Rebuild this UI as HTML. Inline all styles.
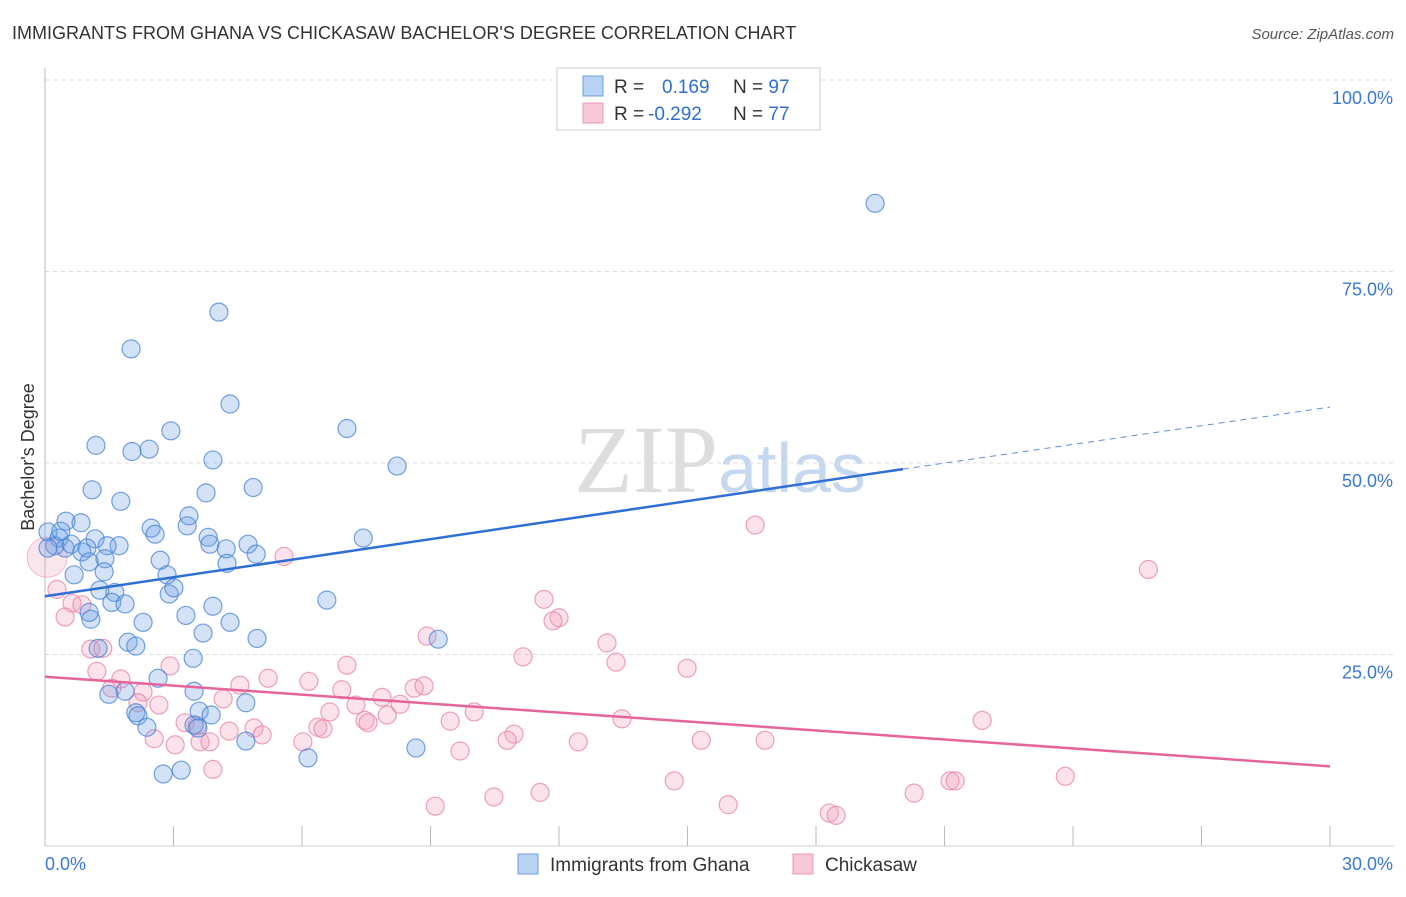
<!DOCTYPE html>
<html><head><meta charset="utf-8"><style>
body{margin:0;background:#fff;font-family:"Liberation Sans",sans-serif}
</style></head><body>
<svg width="1406" height="892" xmlns="http://www.w3.org/2000/svg">
<text x="12" y="39" font-size="18" fill="#333">IMMIGRANTS FROM GHANA VS CHICKASAW BACHELOR'S DEGREE CORRELATION CHART</text>
<text x="1394" y="39" font-size="15" fill="#555" font-style="italic" text-anchor="end">Source: ZipAtlas.com</text>
<text x="720" y="492" font-size="96" fill="#ddd" text-anchor="middle" font-family="Liberation Serif">ZIP<tspan fill="#c6d8ef" font-family="Liberation Sans" font-size="70">atlas</tspan></text>
<g id="grid"></g>
<g id="axes"></g>
<g id="marks"></g>
<text transform="translate(34,457) rotate(-90)" font-size="18" fill="#333" text-anchor="middle">Bachelor's Degree</text>
<g>
<rect x="557" y="68" width="263" height="62" fill="#fff" stroke="#ccc"/>
<rect x="583" y="76" width="20" height="20" fill="#b8d2f4" stroke="#6d9ee0"/>
<rect x="583" y="103" width="20" height="20" fill="#f8c8d8" stroke="#e99ab6"/>
<text x="614" y="93" font-size="19" fill="#333">R = <tspan x="662" fill="#2f6fd0">0.169</tspan><tspan x="733" fill="#333">N = </tspan><tspan fill="#2f6fd0">97</tspan></text>
<text x="614" y="120" font-size="19" fill="#333">R = <tspan x="648" fill="#2f6fd0">-0.292</tspan><tspan x="733" fill="#333">N = </tspan><tspan fill="#2f6fd0">77</tspan></text>
</g>
<g>
<rect x="518" y="854" width="20" height="20" fill="#b8d2f4" stroke="#6d9ee0"/>
<text x="550" y="871" font-size="19" fill="#333">Immigrants from Ghana</text>
<rect x="793" y="854" width="20" height="20" fill="#f8c8d8" stroke="#e99ab6"/>
<text x="825" y="871" font-size="19" fill="#333">Chickasaw</text>
</g>
</svg>
<script>
const yTicks=[25,50,75,100];
const yTickLabels=["25.0%","50.0%","75.0%","100.0%"];
const xTicks=[0,3,6,9,12,15,18,21,24,27,30];
const xLabels=["0.0%","30.0%"];
const blueX=[19.38,4.06,2.01,4.32,7.05,2.94,1.19,2.43,2.03,3.92,8.22,4.86,1.10,3.76,1.77,3.36,3.32,2.48,0.84,0.49,2.57,3.81,7.43,0.07,0.33,1.17,4.74,3.85,4.23,1.73,1.45,0.47,0.23,0.61,0.86,0.98,4.93,1.40,2.69,1.03,4.25,0.68,1.38,2.85,1.63,2.90,1.28,6.58,3.01,1.56,1.87,3.92,3.29,2.29,1.07,1.03,4.32,3.69,4.95,9.18,1.94,2.12,1.24,3.46,2.64,3.48,1.87,1.49,2.12,4.69,3.60,3.88,2.17,2.38,3.48,3.57,4.69,8.66,6.14,3.18,2.76,0.07,0.37];
const blueY=[83.9,69.7,64.9,57.7,54.5,54.2,52.3,51.8,51.5,50.4,49.6,46.8,46.5,46.1,45.0,43.1,41.8,41.5,42.2,42.4,40.7,40.3,40.2,41.0,40.2,40.1,39.4,39.4,38.8,39.2,39.2,38.9,39.2,39.4,38.4,38.9,38.1,37.5,37.3,37.1,36.9,35.4,35.8,35.4,33.1,32.9,33.4,32.1,33.7,31.8,31.6,31.3,30.1,29.2,29.6,30.5,29.2,27.8,27.1,27.0,26.6,26.1,25.8,24.5,21.9,20.2,20.2,19.8,17.4,18.7,17.6,17.1,17.0,15.5,15.8,15.4,13.7,12.8,11.5,9.9,9.4,38.9,41.1];
const pinkX=[16.58,25.76,5.58,0.28,0.63,0.86,0.47,11.65,12.0,11.86,8.92,13.12,1.07,1.35,11.16,13.33,14.99,1.21,7.05,2.92,1.77,5.21,6.16,4.55,1.56,8.62,8.85,2.29,6.93,7.87,4.16,2.66,8.29,2.17,7.26,6.65,10.02,7.47,9.46,7.99,7.54,6.37,3.27,13.47,21.88,6.49,4.88,3.55,10.95,10.79,2.55,4.30,5.07,3.04,3.62,3.85,6.02,12.45,15.32,16.81,9.69,3.92,23.82,14.69,21.13,21.25,20.29,11.56,10.48,9.11,15.95,18.31,18.47];
const pinkY=[41.9,36.1,37.8,33.5,31.7,31.5,29.9,32.2,29.8,29.4,27.4,26.5,25.7,25.8,24.7,24.0,23.2,22.8,23.6,23.5,21.8,21.9,21.5,21.0,20.6,20.6,20.9,20.1,20.4,19.4,19.2,18.4,18.5,18.7,18.4,17.5,17.5,16.4,16.3,17.1,16.1,15.5,16.1,16.6,16.4,15.3,15.4,15.7,14.6,13.8,14.0,15.0,14.5,13.2,13.6,13.6,13.6,13.6,13.8,13.8,12.4,10.0,9.1,8.5,8.5,8.5,6.9,7.0,6.4,5.2,5.4,4.3,4.0];
const bigPink=[0.05,37.7];
const blueTrend=[[0,32.6],[20.03,49.2],[30,57.3]];
const pinkTrend=[[0,22.1],[30,10.4]];
const NS="http://www.w3.org/2000/svg";
const sx=v=>45+v/30*1285, sy=v=>846-v*7.66;
function mk(tag,attrs,parent){const e=document.createElementNS(NS,tag);for(const k in attrs)e.setAttribute(k,attrs[k]);document.getElementById(parent).appendChild(e);return e;}
yTicks.forEach((t,i)=>{
 const g=mk('line',{x1:45,x2:1394,y1:sy(t),y2:sy(t),stroke:'#ddd','stroke-dasharray':'4,4'},'grid');
 
 
 const l=mk('text',{x:1393,y:sy(t)+24,'font-size':18,fill:'#3a78d4','text-anchor':'end'},'grid');
 l.textContent=yTickLabels[i];
 
 
});
const ax=mk('line',{x1:45,x2:45,y1:68,y2:846,stroke:'#bbb'},'axes');


const bx=mk('line',{x1:45,x2:1394,y1:846,y2:846,stroke:'#ccc'},'axes');


xTicks.forEach(t=>{
 const k=mk('line',{x1:sx(t),x2:sx(t),y1:826,y2:846,stroke:'#bbb'},'axes');
 
 
});
const xl0=mk('text',{x:45,y:870,'font-size':18,fill:'#3a78d4'},'axes');
xl0.textContent=xLabels[0];


const xl1=mk('text',{x:1393,y:870,'font-size':18,fill:'#3a78d4','text-anchor':'end'},'axes');
xl1.textContent=xLabels[1];


const bp=mk('circle',{cx:sx(bigPink[0]),cy:sy(bigPink[1]),r:20,fill:'rgba(240,150,180,0.25)',stroke:'rgba(232,130,165,0.5)'},'marks');


pinkX.forEach((x,i)=>{
 const c=mk('circle',{cx:sx(x),cy:sy(pinkY[i]),r:9,fill:'rgba(242,160,190,0.3)',stroke:'rgba(232,130,165,0.75)','stroke-width':1.2},'marks');
 
 
});
blueX.forEach((x,i)=>{
 const c=mk('circle',{cx:sx(x),cy:sy(blueY[i]),r:9,fill:'rgba(110,160,230,0.3)',stroke:'rgba(70,130,215,0.75)','stroke-width':1.2},'marks');
 
 
});
const bt=mk('line',{x1:sx(blueTrend[0][0]),y1:sy(blueTrend[0][1]),x2:sx(blueTrend[1][0]),y2:sy(blueTrend[1][1]),stroke:'#2e6fd6','stroke-width':2.5},'marks');


const bd=mk('line',{x1:sx(blueTrend[1][0]),y1:sy(blueTrend[1][1]),x2:sx(blueTrend[2][0]),y2:sy(blueTrend[2][1]),stroke:'#5b8fd8','stroke-width':1,'stroke-dasharray':'6,5'},'marks');


const pt=mk('line',{x1:sx(pinkTrend[0][0]),y1:sy(pinkTrend[0][1]),x2:sx(pinkTrend[1][0]),y2:sy(pinkTrend[1][1]),stroke:'#e5649a','stroke-width':2.5},'marks');


</script>
</body></html>
